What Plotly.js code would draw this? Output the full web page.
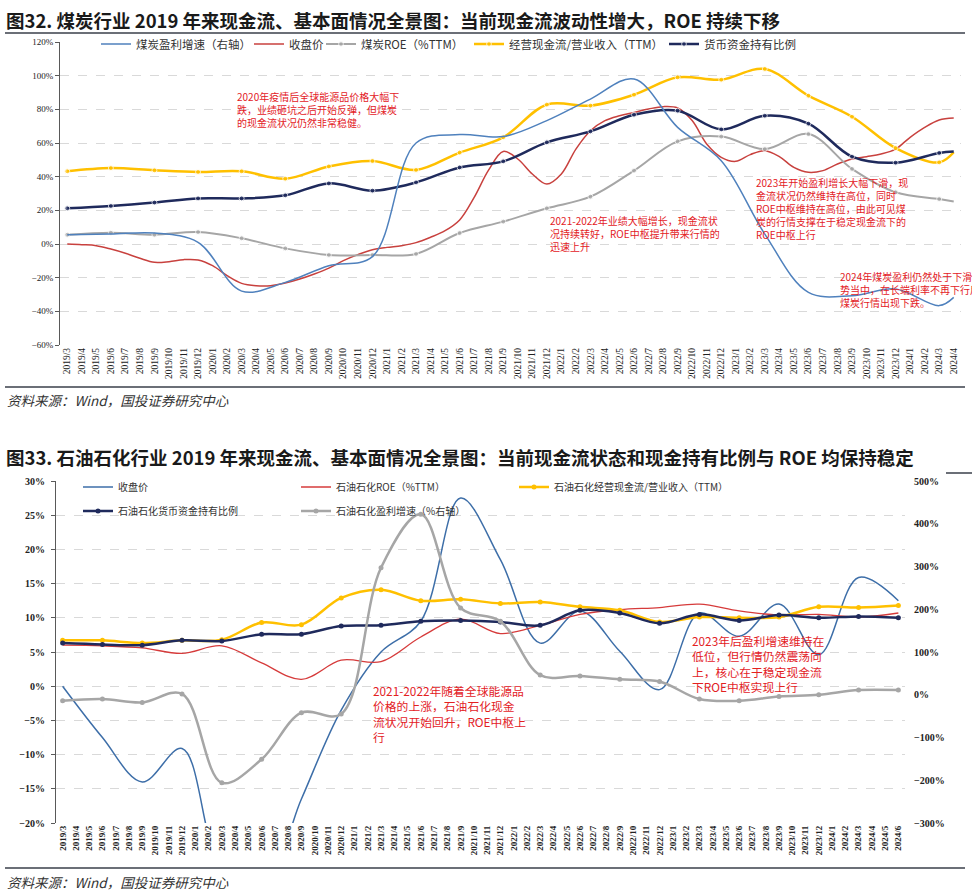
<!DOCTYPE html>
<html>
<head>
<meta charset="utf-8">
<script src="https://cdn.plot.ly/plotly-3.0.1.min.js"></script>
<style>
  html, body { margin: 0; padding: 0; background: #fff; }
  #chart { width: 972px; height: 896px; }
</style>
</head>
<body>
<div id="chart"></div>
<script>
// month labels such as "2019/3"
function monthLabels(y0, m0, y1, m1) {
    let out = [];
    let y = y0, m = m0;
    while (y < y1 || (y === y1 && m <= m1)) {
        out.push(y + "/" + m);
        m++;
        if (m > 12) { m = 1; y++; }
    }
    return out;
}

// ---- 图32 煤炭 ----
const coalMonths = monthLabels(2019, 3, 2024, 4);
const coalQuarters = ["2019/3", "2019/6", "2019/9", "2019/12", "2020/3", "2020/6", "2020/9", "2020/12",
    "2021/3", "2021/6", "2021/9", "2021/12", "2022/3", "2022/6", "2022/9", "2022/12",
    "2023/3", "2023/6", "2023/9", "2023/12", "2024/3", "2024/4"];

// 收盘价 (monthly)
const coalPrice = [0, -0.4, -1.0, -3.0, -5.5, -8.5, -10.9, -10.5, -9.3, -9.5,
    -12.9, -18.8, -23.4, -24.8, -24.8, -23.2, -20.8, -17.8, -14.3, -9.9,
    -6.3, -3.4, -2.0, -1.0, 0.8, 4.0, 7.9, 14.3, 27.7, 44.0,
    55.0, 50.5, 41.6, 35.6, 41.6, 56.4, 67.3, 73.3, 76.2, 78.2,
    80.2, 81.6, 80.8, 73.3, 59.4, 51.5, 49.1, 53.1, 55.4, 51.9,
    45.5, 42.6, 43.6, 47.5, 50.5, 51.9, 53.5, 56.4, 63.4, 69.3,
    73.7, 74.9];
// 煤炭盈利增速（右轴）
const coalProfitGrowth = [5.5, 5.9, 6.5, 1.0, -28.0, -22.8, -12.9, -7.5, 60.0, 65.0, 63.8,
    73.3, 86.1, 98.0, 69.3, 49.5, 5.9, -28.7, -30.7, -26.7, -36.6, -31.7];
const coalROE = [5.5, 6.7, 5.5, 7.1, 3.4, -2.6, -6.5, -6.5, -5.9, 6.5, 13.3,
    21.2, 28.1, 43.6, 61.0, 63.8, 56.4, 65.3, 44.6, 30.7, 26.7, 25.3];
const coalCashFlow = [43.2, 45.1, 43.8, 42.8, 43.2, 38.8, 46.1, 49.3, 44.0, 54.3, 63.4,
    82.8, 82.2, 88.7, 99.0, 97.6, 104.0, 88.1, 75.6, 57.0, 48.5, 54.5];
const coalCashRatio = [21.2, 22.6, 24.6, 27.1, 27.1, 28.9, 36.0, 31.7, 36.6, 45.5, 49.1,
    60.4, 66.9, 76.8, 79.2, 68.1, 76.2, 71.5, 51.9, 48.3, 54.1, 54.9];

// ---- 图33 石油石化 ----
const petroMonths = monthLabels(2019, 3, 2024, 6);
const petroQuarters = ["2019/3", "2019/6", "2019/9", "2019/12", "2020/3", "2020/6", "2020/9", "2020/12",
    "2021/3", "2021/6", "2021/9", "2021/12", "2022/3", "2022/6", "2022/9", "2022/12",
    "2023/3", "2023/6", "2023/9", "2023/12", "2024/3", "2024/6"];

const petroPrice = [0, -7.5, -14.0, -9.1, -27.0, -30.0, -16.5, -3.5, 5.0, 9.5, 27.5,
    18.5, 6.3, 11.0, 5.1, -0.5, 10.7, 7.3, 12.0, 4.6, 15.9, 12.5];
const petroROE = [6.0, 5.9, 5.6, 4.8, 5.9, 3.4, 1.0, 3.8, 3.6, 7.2, 9.8,
    7.7, 8.9, 10.5, 11.2, 11.5, 12.0, 11.0, 10.4, 10.5, 10.1, 10.7];
const petroCashFlow = [6.7, 6.7, 6.3, 6.7, 6.8, 9.3, 9.0, 12.9, 14.1, 12.5, 12.7,
    12.1, 12.3, 11.6, 11.1, 9.4, 10.1, 10.0, 10.1, 11.6, 11.5, 11.8];
const petroCashRatio = [6.3, 6.1, 6.0, 6.7, 6.6, 7.6, 7.6, 8.8, 8.9, 9.5, 9.6,
    9.4, 8.9, 11.1, 10.7, 9.2, 10.5, 9.6, 10.4, 10.0, 10.2, 10.0];
// 石油石化盈利增速（%右轴）
const petroProfitGrowth = [-14, -10, -18, 2, -206, -151, -42, -45, 297, 422, 203,
    172, 46, 44, 36, 31, -10, -14, -4, 0, 11, 11];

// ---- page geometry helpers (pixels -> paper) ----
const W = 972, H = 896;
const PX = x => x / W;
const PY = y => 1 - y / H;

const BLUE = "#4f81bd", RED = "#c8413e", GRAY = "#a6a6a6", YELLOW = "#ffc000", NAVY = "#1f2a5c";
const noteRed = "#e3211f";
const cjk = "Noto Sans CJK SC";
const serif = "Liberation Serif";

const topY = [PY(345), PY(42)];
const botY = [PY(823), PY(481)];
const zeroAt = (dom, lo, hi) => dom[0] + (dom[1] - dom[0]) * (0 - lo) / (hi - lo);

// no marker on the trailing 2024/4 point of the coal series
const coalMarkerSize = coalQuarters.map((q, i) => i === coalQuarters.length - 1 ? 0 : 5);

const traces = [
    {
        name: "煤炭盈利增速（右轴）", x: coalQuarters, y: coalProfitGrowth, xaxis: "x", yaxis: "y2",
        mode: "lines", line: {color: BLUE, width: 1.5, shape: "spline"}, legend: "legend", showlegend: true
    },
    {
        name: "收盘价", x: coalMonths, y: coalPrice, xaxis: "x", yaxis: "y",
        mode: "lines", line: {color: RED, width: 1.5, shape: "spline"}, legend: "legend2"
    },
    {
        name: "煤炭ROE（%TTM）", x: coalQuarters, y: coalROE, xaxis: "x", yaxis: "y",
        mode: "lines+markers", line: {color: GRAY, width: 2, shape: "spline"},
        marker: {color: GRAY, size: coalMarkerSize}, legend: "legend3"
    },
    {
        name: "经营现金流/营业收入（TTM）", x: coalQuarters, y: coalCashFlow, xaxis: "x", yaxis: "y",
        mode: "lines+markers", line: {color: YELLOW, width: 2.5, shape: "spline"},
        marker: {color: YELLOW, size: coalMarkerSize}, legend: "legend4"
    },
    {
        name: "货币资金持有比例", x: coalQuarters, y: coalCashRatio, xaxis: "x", yaxis: "y",
        mode: "lines+markers", line: {color: NAVY, width: 2.5, shape: "spline"},
        marker: {color: NAVY, size: coalMarkerSize}, legend: "legend5"
    },
    // bottom chart
    {
        name: "收盘价", x: petroQuarters, y: petroPrice, xaxis: "x2", yaxis: "y3",
        mode: "lines", line: {color: "#3d6ea8", width: 1.5, shape: "spline"}, legend: "legend6"
    },
    {
        name: "石油石化ROE（%TTM）", x: petroQuarters, y: petroROE, xaxis: "x2", yaxis: "y3",
        mode: "lines", line: {color: "#d63b3b", width: 1.3, shape: "spline"}, legend: "legend6"
    },
    {
        name: "石油石化经营现金流/营业收入（TTM）", x: petroQuarters, y: petroCashFlow, xaxis: "x2", yaxis: "y3",
        mode: "lines+markers", line: {color: YELLOW, width: 2.5, shape: "spline"},
        marker: {color: YELLOW, size: 5}, legend: "legend6"
    },
    {
        name: "石油石化货币资金持有比例", x: petroQuarters, y: petroCashRatio, xaxis: "x2", yaxis: "y3",
        mode: "lines+markers", line: {color: NAVY, width: 2.5, shape: "spline"},
        marker: {color: NAVY, size: 5}, legend: "legend7"
    },
    {
        name: "石油石化盈利增速（%右轴）", x: petroQuarters, y: petroProfitGrowth, xaxis: "x2", yaxis: "y4",
        mode: "lines+markers", line: {color: GRAY, width: 2.5, shape: "spline"},
        marker: {color: GRAY, size: 5}, legend: "legend7"
    }
];

const axisLine = "#595959";
const gridStyle = {showgrid: true, gridcolor: "#d9d9d9", griddash: "dash", gridwidth: 1};

// one legend box per entry in the top chart so each sits where the original puts it
function topLegend(px) {
    return {
        visible: true, orientation: "h", x: PX(px), y: PY(44), xanchor: "left", yanchor: "middle",
        bgcolor: "rgba(0,0,0,0)", font: {family: cjk, size: 11.5, color: "#333"}
    };
}
function bottomLegend(py) {
    return {
        visible: true, orientation: "h", x: PX(78), y: PY(py), xanchor: "left", yanchor: "middle",
        entrywidth: 173, bgcolor: "rgba(0,0,0,0)", font: {family: cjk, size: 10, color: "#333"}
    };
}

const layout = {
    width: W, height: H,
    margin: {l: 0, r: 0, t: 0, b: 0},
    paper_bgcolor: "#ffffff", plot_bgcolor: "rgba(0,0,0,0)",
    hovermode: false,
    showlegend: true,
    font: {family: cjk, color: "#333"},

    // top chart
    xaxis: {
        domain: [PX(60), PX(961)], anchor: "y", type: "category",
        categoryorder: "array", categoryarray: coalMonths, range: [-0.5, coalMonths.length - 0.5],
        tickmode: "linear", tick0: 0, dtick: 1, tickangle: -90,
        tickfont: {family: serif, size: 9.5, color: "#222"},
        showline: false, ticks: "", showgrid: false, zeroline: false
    },
    yaxis: Object.assign({
        domain: topY, anchor: "x", range: [-60, 120], dtick: 20, ticksuffix: "%",
        showline: true, linecolor: axisLine, ticks: "outside", ticklen: 4, tickcolor: axisLine,
        zeroline: false, tickfont: {family: serif, size: 9, color: "#222"}
    }, gridStyle),
    yaxis2: {overlaying: "y", side: "right", anchor: "x", range: [-60, 120], visible: false},
    xaxis3: {
        overlaying: "x", anchor: "free", position: zeroAt(topY, -60, 120),
        domain: [PX(60), PX(961)], type: "linear", range: [-0.5, coalMonths.length - 0.5],
        tickmode: "linear", tick0: -0.5, dtick: 1, ticks: "outside", ticklen: 4, tickcolor: axisLine,
        showline: true, linecolor: axisLine, showticklabels: false, showgrid: false, zeroline: false
    },

    // bottom chart
    xaxis2: {
        domain: [PX(56), PX(905)], anchor: "y3", type: "category",
        categoryorder: "array", categoryarray: petroMonths, range: [-0.5, petroMonths.length - 0.5],
        tickmode: "linear", tick0: 0, dtick: 1, tickangle: -90,
        tickfont: {family: serif, size: 9, color: "#222", weight: "bold"},
        showline: false, ticks: "", showgrid: false, zeroline: false
    },
    yaxis3: Object.assign({
        domain: botY, anchor: "x2", range: [-20, 30], dtick: 5, ticksuffix: "%",
        showline: true, linecolor: axisLine, ticks: "outside", ticklen: 4, tickcolor: axisLine,
        ticklabelstandoff: 4, zeroline: false,
        tickfont: {family: serif, size: 10, color: "#222", weight: "bold"}
    }, gridStyle),
    yaxis4: {
        overlaying: "y3", side: "right", anchor: "x2", range: [-300, 500], dtick: 100, ticksuffix: "%",
        showline: false, ticks: "", showgrid: false, zeroline: false, ticklabelstandoff: 8,
        tickfont: {family: serif, size: 10, color: "#222", weight: "bold"}
    },
    xaxis4: {
        overlaying: "x2", anchor: "free", position: zeroAt(botY, -20, 30),
        domain: [PX(56), PX(905)], type: "linear", range: [-0.5, petroMonths.length - 0.5],
        tickmode: "linear", tick0: -0.5, dtick: 1, ticks: "inside", ticklen: 4, tickcolor: axisLine,
        showline: true, linecolor: axisLine, showticklabels: false, showgrid: false, zeroline: false
    },

    legend: topLegend(96),
    legend2: topLegend(249),
    legend3: topLegend(321),
    legend4: topLegend(469),
    legend5: topLegend(664),
    legend6: bottomLegend(487),
    legend7: bottomLegend(511),

    shapes: [
        {type: "line", xref: "paper", yref: "paper", x0: PX(5), x1: PX(965), y0: PY(33), y1: PY(33), line: {color: "#3a3f4a", width: 1.5}},
        {type: "line", xref: "paper", yref: "paper", x0: PX(5), x1: PX(965), y0: PY(387), y1: PY(387), line: {color: "#3a3f4a", width: 1.5}},
        {type: "line", xref: "paper", yref: "paper", x0: PX(946), x1: PX(972), y0: PY(473), y1: PY(473), line: {color: "#3a3f4a", width: 1.5}},
        {type: "line", xref: "paper", yref: "paper", x0: PX(5), x1: PX(965), y0: PY(868), y1: PY(868), line: {color: "#3a3f4a", width: 1.5}}
    ],

    annotations: [
        {text: "图32. 煤炭行业 2019 年来现金流、基本面情况全景图：当前现金流波动性增大，ROE 持续下移",
            x: PX(4), y: PY(20), xanchor: "left", yanchor: "middle",
            font: {family: cjk, size: 18.5, color: "#1a1a1a", weight: "bold"}},
        {text: "资料来源：Wind，国投证券研究中心",
            x: PX(5), y: PY(400), xanchor: "left", yanchor: "middle",
            font: {family: cjk, size: 13.5, color: "#333", style: "italic"}},
        {text: "图33. 石油石化行业 2019 年来现金流、基本面情况全景图：当前现金流状态和现金持有比例与 ROE 均保持稳定",
            x: PX(4), y: PY(457), xanchor: "left", yanchor: "middle",
            font: {family: cjk, size: 18.5, color: "#1a1a1a", weight: "bold"}},
        {text: "资料来源：Wind，国投证券研究中心",
            x: PX(5), y: PY(882), xanchor: "left", yanchor: "middle",
            font: {family: cjk, size: 13.5, color: "#333", style: "italic"}},

        {text: "2020年疫情后全球能源品价格大幅下<br>跌，业绩砸坑之后开始反弹，但煤炭<br>的现金流状况仍然非常稳健。",
            x: PX(235), y: PY(87), xanchor: "left", yanchor: "top", align: "left",
            font: {family: cjk, size: 10, color: noteRed}},
        {text: "2021-2022年业绩大幅增长，现金流状<br>况持续转好，ROE中枢提升带来行情的<br>迅速上升",
            x: PX(548), y: PY(211), xanchor: "left", yanchor: "top", align: "left",
            font: {family: cjk, size: 10, color: noteRed}},
        {text: "2023年开始盈利增长大幅下滑，现<br>金流状况仍然维持在高位，同时<br>ROE中枢维持在高位，由此可见煤<br>炭的行情支撑在于稳定现金流下的<br>ROE中枢上行",
            x: PX(754), y: PY(173), xanchor: "left", yanchor: "top", align: "left",
            font: {family: cjk, size: 10, color: noteRed}},
        {text: "2024年煤炭盈利仍然处于下滑趋<br>势当中，在长端利率不再下行后，<br>煤炭行情出现下跌。",
            x: PX(838), y: PY(267), xanchor: "left", yanchor: "top", align: "left",
            font: {family: cjk, size: 10, color: noteRed}},

        {text: "2021-2022年随着全球能源品<br>价格的上涨，石油石化现金<br>流状况开始回升，ROE中枢上<br>行",
            x: PX(371), y: PY(680), xanchor: "left", yanchor: "top", align: "left",
            font: {family: cjk, size: 11.8, color: noteRed}},
        {text: "2023年后盈利增速维持在<br>低位，但行情仍然震荡向<br>上，核心在于稳定现金流<br>下ROE中枢实现上行",
            x: PX(690), y: PY(630), xanchor: "left", yanchor: "top", align: "left",
            font: {family: cjk, size: 11.8, color: noteRed}}
    ].map(a => Object.assign({xref: "paper", yref: "paper", showarrow: false}, a))
};

Plotly.newPlot("chart", traces, layout, {displayModeBar: false, staticPlot: true});
</script>
</body>
</html>
